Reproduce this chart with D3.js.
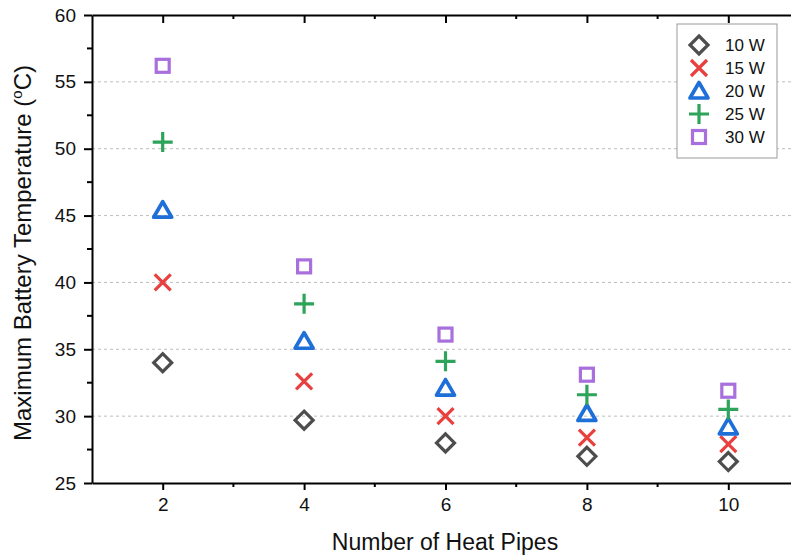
<!DOCTYPE html>
<html>
<head>
<meta charset="utf-8">
<script src="https://cdn.jsdelivr.net/npm/d3@7"></script>
<style>
  body { margin: 0; background: #fff; }
  svg { display: block; font-family: Arial, "Liberation Sans", sans-serif; }
</style>
</head>
<body>
<div id="chart"></div>
<script>
// Data
var pipes = [2, 4, 6, 8, 10];
var seriesNames = ["10 W", "15 W", "20 W", "25 W", "30 W"];
var temp10 = [34.0, 29.7, 28.0, 27.0, 26.6];
var temp15 = [40.0, 32.6, 30.0, 28.4, 27.9];
var temp20 = [45.4, 35.6, 32.1, 30.2, 29.2];
var temp25 = [50.5, 38.4, 34.1, 31.6, 30.5];
var temp30 = [56.2, 41.2, 36.1, 33.1, 31.9];
var yTicks = [25, 30, 35, 40, 45, 50, 55, 60];
var xTicks = [2, 4, 6, 8, 10];

var w = 791, h = 557;
var pLeft = 92, pTop = 15, pRight = 799, pBottom = 483;

var colors = ["#4d4d4d", "#e8403e", "#1f6fd8", "#2ea35a", "#a86fdd"];
var shapes = ["diamond", "cross", "triangle", "plus", "square"];
var allSeries = [temp10, temp15, temp20, temp25, temp30];

var svg = d3.select("#chart").append("svg")
    .attr("width", w)
    .attr("height", h);

var x = d3.scaleLinear().domain([1, 11]).range([pLeft, pRight]);
var y = d3.scaleLinear().domain([25, 60]).range([pBottom, pTop]);

// dashed grid lines
svg.append("g")
    .selectAll("line")
    .data(yTicks.filter(function(d) { return d > 25 && d < 60; }))
    .enter()
    .append("line")
    .attr("x1", pLeft)
    .attr("x2", w)
    .attr("y1", function(d) { return y(d); })
    .attr("y2", function(d) { return y(d); })
    .attr("stroke", "#bdbdbd")
    .attr("stroke-width", 1)
    .attr("stroke-dasharray", "3,3");

// minor ticks
var xMinor = [3, 5, 7, 9];
var yMinor = [27.5, 32.5, 37.5, 42.5, 47.5, 52.5, 57.5];

// bottom axis
var xAxis = svg.append("g")
    .attr("transform", "translate(0," + pBottom + ")")
    .call(d3.axisBottom(x).tickValues(xTicks).tickSize(7).tickPadding(8).tickSizeOuter(0));
xAxis.append("g").selectAll("line").data(xMinor).enter().append("line")
    .attr("x1", function(d) { return x(d); })
    .attr("x2", function(d) { return x(d); })
    .attr("y1", 0).attr("y2", 4);

// top axis, inward ticks
var xTop = svg.append("g")
    .attr("transform", "translate(0," + pTop + ")")
    .call(d3.axisBottom(x).tickValues(xTicks).tickSize(8).tickFormat("").tickSizeOuter(0));
xTop.append("g").selectAll("line").data(xMinor).enter().append("line")
    .attr("x1", function(d) { return x(d); })
    .attr("x2", function(d) { return x(d); })
    .attr("y1", 0).attr("y2", 4);

// left axis
var yAxis = svg.append("g")
    .attr("transform", "translate(" + pLeft + ",0)")
    .call(d3.axisLeft(y).tickValues(yTicks).tickSize(8).tickPadding(8).tickSizeOuter(0));
yAxis.append("g").selectAll("line").data(yMinor).enter().append("line")
    .attr("x1", -5).attr("x2", 0)
    .attr("y1", function(d) { return y(d); })
    .attr("y2", function(d) { return y(d); });

[xAxis, xTop, yAxis].forEach(function(a) {
    a.attr("font-size", null).attr("font-family", null);
    a.selectAll(".domain").attr("stroke", "#000").attr("stroke-width", 2);
    a.selectAll("line").attr("stroke", "#000").attr("stroke-width", 2);
    a.selectAll("text").style("font-size", "19px").attr("fill", "#111");
});

// axis titles
svg.append("text")
    .attr("x", 445)
    .attr("y", 550)
    .attr("text-anchor", "middle")
    .style("font-size", "23px")
    .attr("fill", "#111")
    .text("Number of Heat Pipes");

var yt = svg.append("text")
    .attr("transform", "translate(31,253) rotate(-90)")
    .attr("text-anchor", "middle")
    .style("font-size", "24px")
    .attr("fill", "#111");
yt.append("tspan").text("Maximum Battery Temperature (");
yt.append("tspan").style("font-size", "15px").attr("dy", -9).text("o");
yt.append("tspan").attr("dy", 9).text("C)");

// marker drawing
function drawMarker(g, shape, color) {
    var sw = 3.2;
    if (shape === "diamond") {
        g.append("path").attr("d", "M0,-9L9,0L0,9L-9,0Z")
            .attr("fill", "none").attr("stroke", color).attr("stroke-width", sw)
            .attr("stroke-linejoin", "miter");
    } else if (shape === "cross") {
        g.append("path").attr("d", "M-8,-8L8,8M-8,8L8,-8")
            .attr("stroke", color).attr("stroke-width", sw);
    } else if (shape === "triangle") {
        g.append("path").attr("d", "M0,-8.5L9,7L-9,7Z")
            .attr("fill", "none").attr("stroke", color).attr("stroke-width", sw + 0.5)
            .attr("stroke-linejoin", "round");
    } else if (shape === "plus") {
        g.append("path").attr("d", "M-10,0L10,0M0,-10L0,10")
            .attr("stroke", color).attr("stroke-width", sw);
    } else if (shape === "square") {
        g.append("rect").attr("x", -6.5).attr("y", -6.5).attr("width", 13).attr("height", 13)
            .attr("fill", "none").attr("stroke", color).attr("stroke-width", sw);
    }
}

allSeries.forEach(function(vals, s) {
    var grp = svg.append("g");
    vals.forEach(function(v, i) {
        var g = grp.append("g")
            .attr("transform", "translate(" + x(pipes[i]) + "," + y(v) + ")");
        drawMarker(g, shapes[s], colors[s]);
    });
});

// legend
var lg = svg.append("g").attr("transform", "translate(677,24)");
lg.append("rect")
    .attr("width", 100).attr("height", 134)
    .attr("fill", "#fff").attr("stroke", "#999").attr("stroke-width", 1);
seriesNames.forEach(function(name, i) {
    var row = lg.append("g").attr("transform", "translate(22," + (21 + i * 23) + ")");
    drawMarker(row, shapes[i], colors[i]);
    row.append("text")
        .attr("x", 26).attr("y", 6)
        .style("font-size", "17px")
        .attr("fill", "#111")
        .text(name);
});
</script>
</body>
</html>
